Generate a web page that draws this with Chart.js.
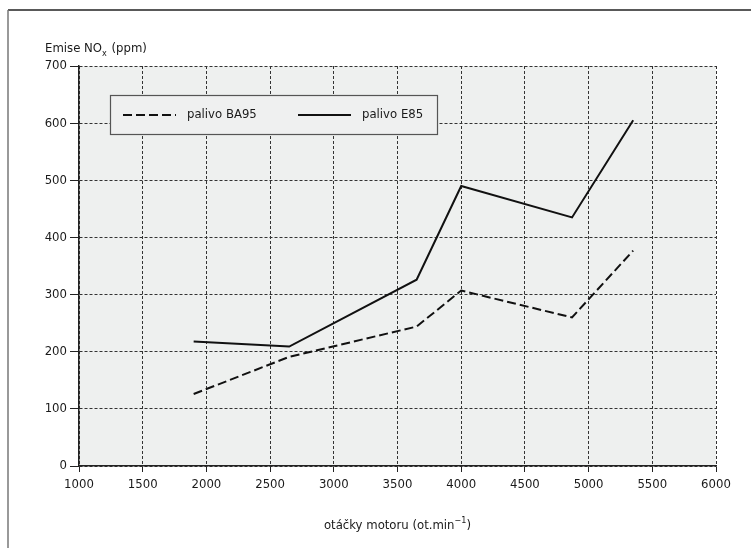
<!DOCTYPE html>
<html>
<head>
<meta charset="utf-8">
<script src="https://cdn.jsdelivr.net/npm/chart.js@4/dist/chart.umd.min.js"></script>
<style>
  html, body { margin: 0; padding: 0; background: #fff; }
  #wrap { width: 751px; height: 548px; position: relative; }
</style>
</head>
<body>
<div id="wrap"><canvas id="c"></canvas></div>
<script>
// values
const rpm = [1900, 2650, 3650, 4000, 4870, 5350];
const ba95 = [126, 191, 244, 307, 260, 377];
const e85 = [218, 209, 326, 490, 435, 605];
const seriesNames = ['palivo BA95', 'palivo E85'];
const xTicks = [1000, 1500, 2000, 2500, 3000, 3500, 4000, 4500, 5000, 5500, 6000];
const yTicks = [0, 100, 200, 300, 400, 500, 600, 700];

const FONT = "'DejaVu Sans Condensed', 'Liberation Sans Narrow', sans-serif";
const ink = '#1a1a1a';
const gridCol = '#333';

const pts = ys => rpm.map((x, i) => ({ x, y: ys[i] }));

// page frame, plot background, titles, legend box
const decor = {
  id: 'decor',
  beforeDraw(chart) {
    const g = chart.ctx, a = chart.chartArea;
    g.save();
    g.fillStyle = '#eef0ef';
    g.fillRect(a.left, a.top, a.right - a.left, a.bottom - a.top);
    // open frame, top + left
    g.strokeStyle = '#222';
    g.lineWidth = 1.5;
    g.beginPath(); g.moveTo(8, 10); g.lineTo(chart.width, 10); g.stroke();
    g.strokeStyle = '#777';
    g.beginPath(); g.moveTo(8, 10); g.lineTo(8, chart.height); g.stroke();
    g.restore();
  },
  afterDraw(chart) {
    const g = chart.ctx, a = chart.chartArea;
    g.save();
    g.fillStyle = ink;
    g.textBaseline = 'alphabetic';
    g.textAlign = 'left';
    // y title with subscript
    g.font = '13px ' + FONT;
    let x = 45, y = 52;
    g.fillText('Emise NO', x, y);
    x += g.measureText('Emise NO').width;
    g.font = '9px ' + FONT;
    g.fillText('x', x, y + 4);
    x += g.measureText('x').width + 1;
    g.font = '13px ' + FONT;
    g.fillText(' (ppm)', x, y);

    // x title with superscript
    const p1 = 'otáčky motoru (ot.min', sup = '−1', p2 = ')';
    g.font = '13px ' + FONT;
    const w1 = g.measureText(p1).width, w3 = g.measureText(p2).width;
    g.font = '9px ' + FONT;
    const w2 = g.measureText(sup).width;
    let tx = (a.left + a.right) / 2 - (w1 + w2 + w3) / 2, ty = 529;
    g.font = '13px ' + FONT;
    g.fillText(p1, tx, ty);
    g.font = '9px ' + FONT;
    g.fillText(sup, tx + w1, ty - 6);
    g.font = '13px ' + FONT;
    g.fillText(p2, tx + w1 + w2, ty);

    // legend box
    const bx = a.left + 31, by = a.top + 29, bw = 327, bh = 39;
    g.fillStyle = '#eff0f0';
    g.fillRect(bx, by, bw, bh);
    g.strokeStyle = '#555';
    g.lineWidth = 1.2;
    g.strokeRect(bx + 0.5, by + 0.5, bw, bh);
    const ly = by + 20;
    chart.data.datasets.forEach((ds, i) => {
      const sx = bx + 13 + i * 175;
      g.strokeStyle = ds.borderColor;
      g.lineWidth = 2;
      g.setLineDash(ds.borderDash || []);
      g.beginPath(); g.moveTo(sx, ly); g.lineTo(sx + 53, ly); g.stroke();
      g.setLineDash([]);
      g.fillStyle = ink;
      g.font = '13px ' + FONT;
      g.textBaseline = 'middle';
      g.fillText(ds.label, sx + 64, ly);
    });
    g.restore();
  }
};

new Chart(document.getElementById('c'), {
  type: 'line',
  data: {
    datasets: [
      { label: seriesNames[0], data: pts(ba95), borderColor: '#111', borderWidth: 2, borderDash: [9, 4], pointRadius: 0, tension: 0 },
      { label: seriesNames[1], data: pts(e85), borderColor: '#111', borderWidth: 2, pointRadius: 0, tension: 0 }
    ]
  },
  options: {
    responsive: true,
    maintainAspectRatio: false,
    animation: false,
    layout: { padding: { left: 0, top: 66, right: 35, bottom: 0 } },
    plugins: { legend: { display: false }, tooltip: { enabled: false } },
    scales: {
      x: {
        type: 'linear',
        min: 1000, max: 6000,
        afterBuildTicks: s => { s.ticks = xTicks.map(v => ({ value: v })); },
        afterFit: s => { s.height = 82; },
        grid: { color: gridCol, lineWidth: 1, tickLength: 6, tickColor: '#222', tickBorderDash: [] },
        border: { display: true, color: '#222', width: 1.5, dash: [3, 2] },
        ticks: { color: ink, font: { family: FONT, size: 13 }, padding: 5, maxRotation: 0, autoSkip: false, callback: v => String(v) }
      },
      y: {
        min: 0, max: 700,
        afterBuildTicks: s => { s.ticks = yTicks.map(v => ({ value: v })); },
        afterFit: s => { s.width = 79; },
        grid: { color: gridCol, lineWidth: 1, tickLength: 9, tickColor: '#222', tickBorderDash: [] },
        border: { display: true, color: '#222', width: 1.5, dash: [3, 2] },
        ticks: { color: ink, font: { family: FONT, size: 13 }, padding: 3, callback: v => String(v) }
      }
    }
  },
  plugins: [decor]
});
</script>
</body>
</html>
